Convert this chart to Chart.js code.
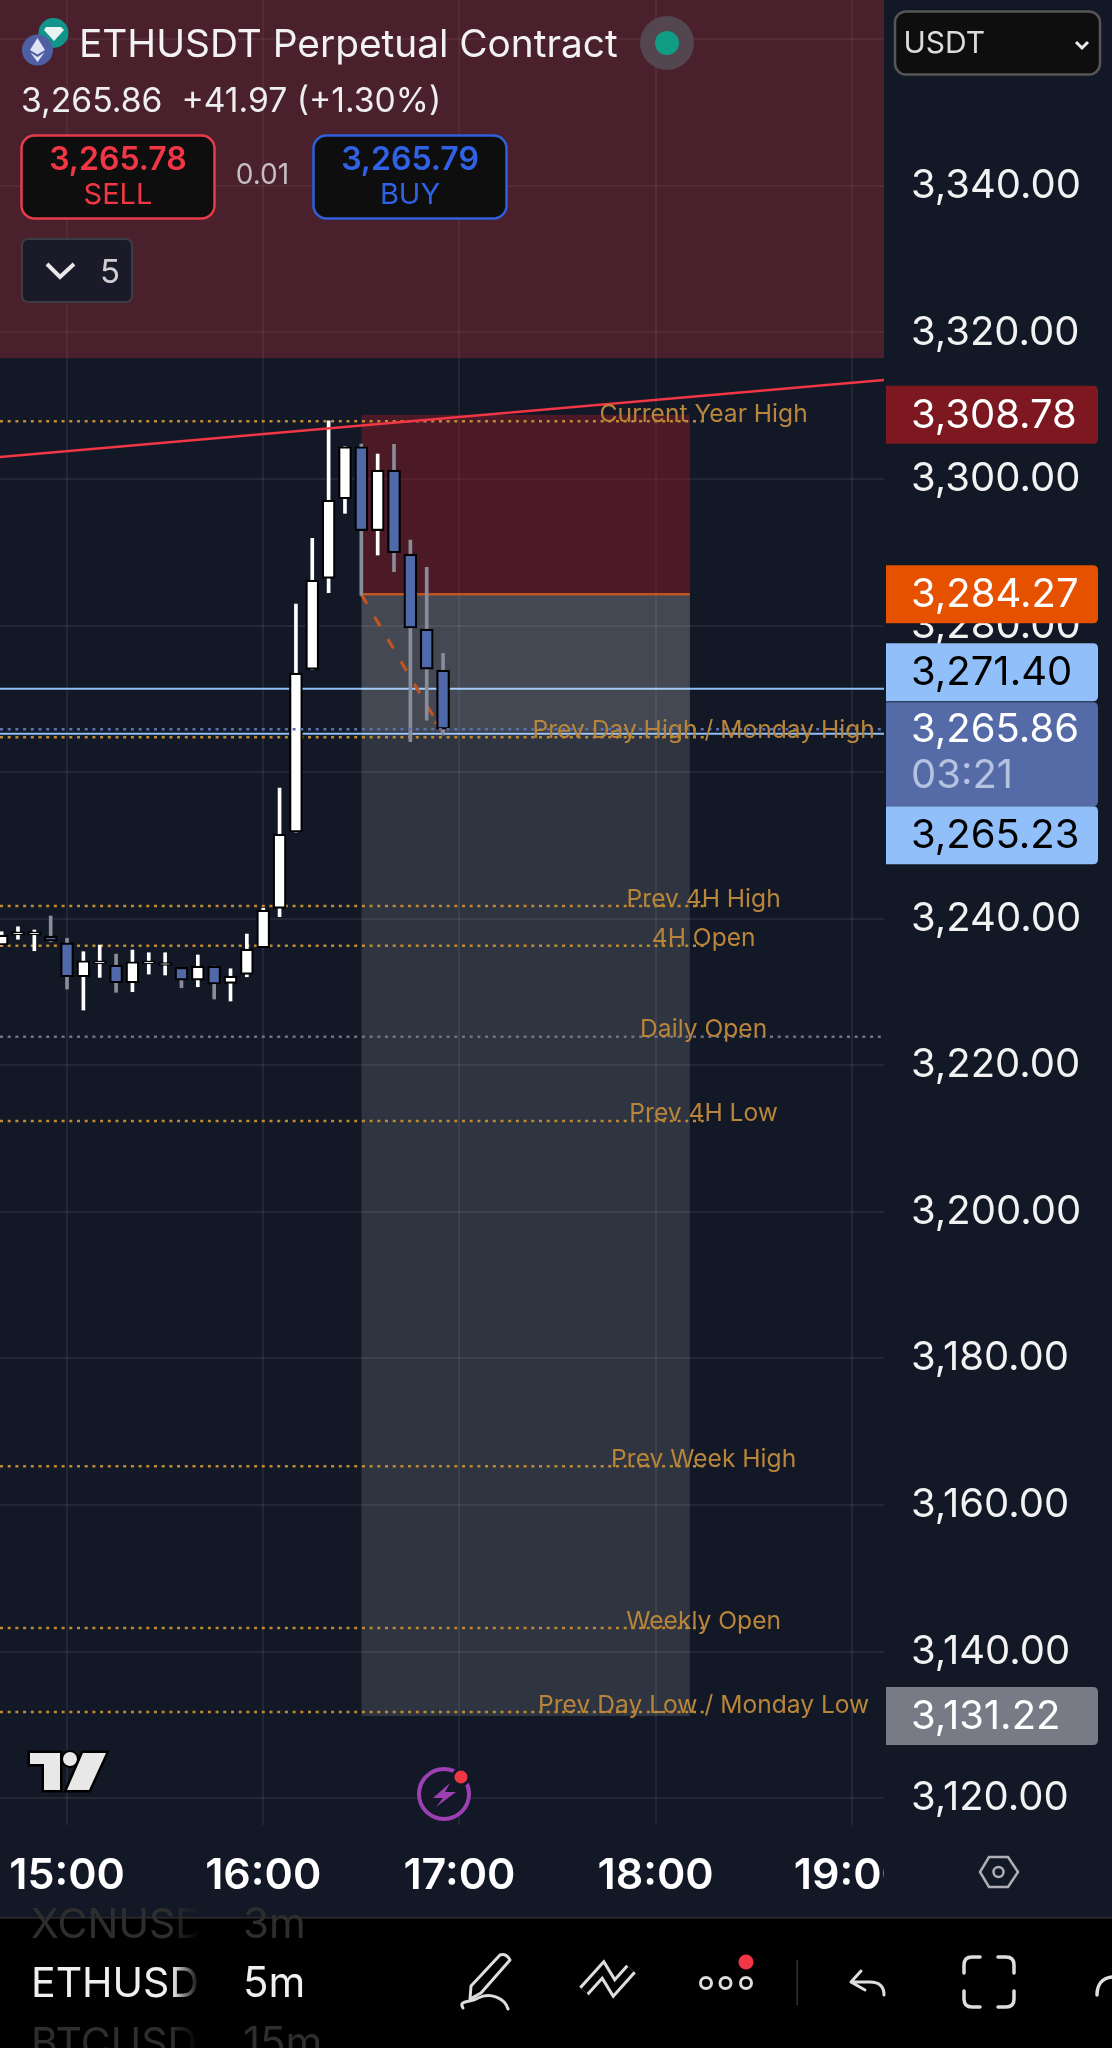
<!DOCTYPE html>
<html>
<head>
<meta charset="utf-8">
<style>
html,body{margin:0;padding:0;background:#121826;width:1112px;height:2048px;overflow:hidden}
#wrap{position:relative;width:1112px;height:2048px}
canvas{position:absolute;left:0;top:0}
svg{position:absolute;left:0;top:0;font-family:Inter,sans-serif}
</style>
<script src="https://cdn.jsdelivr.net/npm/chart.js@4/dist/chart.umd.js"></script>
</head>
<body>
<div id="wrap">
<canvas id="c" width="1112" height="2048"></canvas>
<svg width="1112" height="2048" viewBox="0 0 1112 2048">
  <defs>
    <linearGradient id="fadeMain" gradientUnits="userSpaceOnUse" x1="172" x2="200" y1="0" y2="0"><stop offset="0" stop-color="#f0f0f0"/><stop offset="1" stop-color="#f0f0f0" stop-opacity="0"/></linearGradient>
    <linearGradient id="fadeDim" gradientUnits="userSpaceOnUse" x1="172" x2="200" y1="0" y2="0"><stop offset="0" stop-color="#2e2e2e"/><stop offset="1" stop-color="#2e2e2e" stop-opacity="0"/></linearGradient>
  </defs>

  <!-- header -->
  <circle cx="53.5" cy="33" r="15" fill="#10958a"/>
  <path d="M46 27h15l3 3-10 11-10-11z" fill="#e8f4f2"/>
  <circle cx="37.5" cy="50" r="15.5" fill="#4f5fa3"/>
  <path d="M37.5 38l7.5 12-7.5 4.5-7.5-4.5zM30.5 52.5l7 4.5 7-4.5-7 9.5z" fill="#dfe4f5"/>
  <text x="79" y="57" font-size="38.8" fill="#f2f2f2">ETHUSDT Perpetual Contract</text>
  <circle cx="667" cy="43" r="27" fill="#54464f"/>
  <circle cx="667" cy="43" r="12" fill="#0f9d84"/>
  <text x="21" y="112" font-size="33.7" fill="#eeeeee" xml:space="preserve">3,265.86  +41.97 (+1.30%)</text>

  <rect x="21.5" y="135.5" width="193" height="83" rx="13" fill="#0e0e0e" stroke="#e63b49" stroke-width="2.5"/>
  <text x="118" y="170" font-size="32" font-weight="600" fill="#f23645" text-anchor="middle">3,265.78</text>
  <text x="118" y="204" font-size="29" fill="#f23645" text-anchor="middle">SELL</text>
  <text x="262.5" y="184" font-size="28" fill="#c6bfc2" text-anchor="middle">0.01</text>
  <rect x="313.5" y="135.5" width="193" height="83" rx="13" fill="#0e0e0e" stroke="#2f5fdc" stroke-width="2.5"/>
  <text x="410" y="170" font-size="32" font-weight="600" fill="#2f62e6" text-anchor="middle">3,265.79</text>
  <text x="410" y="204" font-size="29" fill="#2f62e6" text-anchor="middle">BUY</text>

  <rect x="22" y="239" width="110" height="63" rx="6" fill="#1a1a28" stroke="#3c3c46" stroke-width="2"/>
  <path d="M47 264l13 13 14-13" fill="none" stroke="#e8e8e8" stroke-width="4"/>
  <text x="100" y="283" font-size="33" fill="#cfcfd2">5</text>

  <rect x="895" y="11.5" width="205" height="63" rx="11" fill="#0e0e0e" stroke="#565656" stroke-width="2.5"/>
  <text x="903.5" y="53" font-size="30" fill="#dcdcdc">USDT</text>
  <path d="M1076 42l6 6 6-6" fill="none" stroke="#eee" stroke-width="3"/>

  <!-- chart furniture -->
  <path d="M30 1753h30v37H44v-26H30z" fill="#e8e8e8" stroke="#000" stroke-width="5" paint-order="stroke"/>
  <circle cx="70" cy="1759" r="7" fill="#e8e8e8" stroke="#000" stroke-width="4" paint-order="stroke"/>
  <path d="M83 1753h23l-17 37H67z" fill="#e8e8e8" stroke="#000" stroke-width="5" paint-order="stroke"/>
  <circle cx="444" cy="1794" r="25" fill="#121826" stroke="#9c40b4" stroke-width="4"/>
  <path d="M450 1783l-17 15h10l-7 9 20-15h-11z" fill="#9c40b4"/>
  <circle cx="461" cy="1777" r="8" fill="#f23645" stroke="#121826" stroke-width="3"/>

  <rect x="884" y="1826" width="228" height="91" fill="#121826"/>
  <path d="M989 1857h19l10 15-10 15h-19l-9-15z" fill="none" stroke="#aeb0b6" stroke-width="2.5"/>
  <circle cx="998.5" cy="1872" r="5" fill="none" stroke="#aeb0b6" stroke-width="2.5"/>

  <!-- bottom toolbar -->
  <rect x="0" y="1917" width="1112" height="131" fill="#000"/>
  <rect x="0" y="1917" width="1112" height="1.5" fill="#2c2c2c"/>
  <text x="31" y="1938" font-size="41" fill="url(#fadeDim)">XCNUSD</text>
  <text x="243" y="1938" font-size="42" fill="#2e2e2e">3m</text>
  <text x="31" y="1997" font-size="41" fill="url(#fadeMain)">ETHUSD</text>
  <text x="243" y="1997" font-size="42" fill="#f0f0f0">5m</text>
  <text x="31" y="2057" font-size="41" fill="url(#fadeDim)">BTCUSD</text>
  <text x="243" y="2057" font-size="42" fill="#2e2e2e">15m</text>

  <g fill="none" stroke="#dedede" stroke-width="3" stroke-linejoin="round" stroke-linecap="round">
    <path d="M500 1955Q506 1953 510 1960L481 1993L470 1999L471 1986Z"/>
    <path d="M463 2008C458 2000 470 2003 478 1998C490 1992 505 1998 508 2009"/>
    <path d="M851 1982H870Q884 1982 884 1995M861 1971L851 1982L865 1990"/>
    <path d="M964 1973V1965Q964 1957 972 1957H980M998 1957H1006Q1014 1957 1014 1965V1973M1014 1991V1999Q1014 2007 1006 2007H998M980 2007H972Q964 2007 964 1999V1991" stroke-width="3.5"/>
    <path d="M1097 1995C1097 1985 1102 1978 1112 1977" stroke-width="3.5"/>
    <circle cx="706" cy="1983" r="5.5"/>
    <circle cx="725.5" cy="1983" r="5.5"/>
    <circle cx="746" cy="1983" r="5.5"/>
  </g>
  <polyline points="584,1991 603,1970 614,1988 631,1969" fill="none" stroke="#dedede" stroke-width="13" stroke-linejoin="miter"/>
  <polyline points="584,1991 603,1970 614,1988 631,1969" fill="none" stroke="#000" stroke-width="7" stroke-linejoin="miter"/>
  <circle cx="746" cy="1962" r="7.5" fill="#f23645"/>
  <rect x="796.5" y="1960" width="1.5" height="45" fill="#333"/>
</svg>
</div>
<script>
// ---- data ----
const candleTimes = ['14:40','14:45','14:50','14:55','15:00','15:05','15:10','15:15','15:20','15:25','15:30','15:35','15:40','15:45','15:50','15:55','16:00','16:05','16:10','16:15','16:20','16:25','16:30','16:35','16:40','16:45','16:50','16:55'];
const opens  = [3236.41,3237.8,3237.8,3237.64,3236.72,3232.08,3233.85,3233.68,3231.26,3233.85,3233.62,3233.37,3231.63,3233.54,3231.18,3232.41,3236.04,3241.42,3251.83,3274.03,3286.45,3297.31,3304.41,3292.95,3301.23,3289.77,3279.53,3273.94];
const closes = [3237.77,3238.2,3238.2,3236.96,3232.08,3234.27,3234.25,3231.26,3234.13,3234.25,3234.02,3231.63,3233.54,3231.09,3232.18,3235.86,3241.19,3251.56,3273.53,3286.22,3297.13,3304.41,3292.95,3301.23,3289.94,3279.67,3274.07,3265.86];
const highs  = [3238.22,3238.9,3238.46,3240.37,3237.32,3235.5,3236.41,3235.18,3235.73,3235.36,3235.36,3233.37,3235.05,3233.54,3233.17,3237.91,3241.42,3257.83,3282.94,3291.91,3307.96,3304.41,3304.78,3303.41,3304.74,3291.68,3287.95,3276.21];
const lows   = [3236.41,3237.2,3235.63,3236.86,3230.41,3227.54,3232.0,3229.96,3230.04,3232.45,3232.32,3230.58,3230.72,3229.04,3228.77,3232.08,3236.04,3240.27,3251.83,3274.03,3284.48,3295.32,3284.17,3289.63,3287.35,3264.15,3267.11,3265.07];

const levelNames  = ['Current Year High','Prev Day High / Monday High','Prev 4H High','4H Open','Daily Open','Prev 4H Low','Prev Week High','Weekly Open','Prev Day Low / Monday Low'];
const levelPrices = [3307.87,3264.75,3241.73,3236.31,3223.9,3212.4,3165.3,3143.2,3131.75];

const hourTicks   = ['15:00','16:00','17:00','18:00','19:00'];
const viewPrices  = [3116.33,3365.37];
const viewTimes   = ['14:39.5','19:09.85'];
const positionStart = '16:30';
const positionEnd   = '18:10.5';
const levelLabelAt  = '18:15';
const entryPrice    = 3284.27;
const stopPrice     = 3308.78;
const targetPrice   = 3131.22;
const lastPrice     = 3265.86;
const upperLine     = 3271.40;
const lowerLine     = 3265.23;
const countdown     = '03:21';
const resistanceZoneLow = 3316.5;
const trendPrices   = [3303.0,3313.5];
const arrowTimes    = ['16:30','16:55'];
const arrowPrices   = [3284.27,3265.4];
const arrowHeadTimes  = ['16:52.4','16:55'];
const arrowHeadPrices = [3266.9,3265.9];

// ---- helpers ----
const toMin = s => { const [h,m] = s.split(':'); return +h*60 + +m; };
const fmtPrice = v => v.toLocaleString('en-US',{minimumFractionDigits:2,maximumFractionDigits:2});
const xMin = toMin(viewTimes[0]), xMax = toMin(viewTimes[1]);
const FONT = 'Inter, sans-serif';
const isUp = i => closes[i] >= opens[i];

function span(t0,t1,price){ return [{x:t0,y:price},{x:t1,y:price}]; }
function lineDs(data,color,width,dash,order){
  return {type:'line',data,borderColor:color,borderWidth:width,borderDash:dash||[],pointRadius:0,order,fill:false,tension:0};
}
function zoneDs(t0,t1,top,bottom,color,order){
  return {type:'line',data:span(t0,t1,top),borderWidth:0,borderColor:'transparent',pointRadius:0,fill:{value:bottom},backgroundColor:color,order};
}
function noScalePadding(s){ s.paddingLeft=0; s.paddingRight=0; s.paddingTop=0; s.paddingBottom=0; }

const ps = toMin(positionStart), pe = toMin(positionEnd), lx = toMin(levelLabelAt);
const ORANGE = '#c08a33';
const levelDatasets = levelPrices.map((p,i)=>{
  const daily = levelNames[i]==='Daily Open';
  return lineDs(span(xMin, daily ? xMax : lx, p), daily ? '#6e7482' : ORANGE, 2.5, [3,4.7], 12);
});

const datasets = [
  lineDs(span(xMin,xMax,upperLine),'#90bff9',2,[],40),
  lineDs(span(xMin,xMax,lowerLine),'#90bff9',2,[],40),
  zoneDs(xMin,xMax,viewPrices[1],resistanceZoneLow,'rgba(242,54,69,0.25)',30),
  zoneDs(ps,pe,stopPrice,entryPrice,'rgba(180,30,42,0.36)',30),
  zoneDs(ps,pe,entryPrice,targetPrice,'rgba(255,255,255,0.12)',30),
  zoneDs(ps,pe,entryPrice,lastPrice-0.3,'rgba(255,255,255,0.10)',29),
  lineDs(span(ps,pe,entryPrice),'#c2541e',2.5,[],20),
  lineDs(arrowTimes.map((t,i)=>({x:toMin(t),y:arrowPrices[i]})),'#c2541e',3.2,[11,15],15),
  lineDs(arrowHeadTimes.map((t,i)=>({x:toMin(t),y:arrowHeadPrices[i]})),'#c2541e',3.2,[],15),
  ...levelDatasets,
  {type:'bar',label:'wick',data:candleTimes.map((t,i)=>({x:toMin(t),y:[lows[i],highs[i]]})),
   backgroundColor:candleTimes.map((t,i)=>isUp(i)?'#ffffff':'#888d99'),borderWidth:0,barThickness:3,grouped:false,order:6},
  {type:'bar',label:'body',data:candleTimes.map((t,i)=>({x:toMin(t),y:[opens[i],closes[i]]})),
   backgroundColor:candleTimes.map((t,i)=>isUp(i)?'#ffffff':'#5069a8'),borderColor:'#000',borderWidth:2.2,borderSkipped:false,barThickness:13,grouped:false,order:5},
  lineDs(span(xMin,xMax,lastPrice),'#5a72ae',2.5,[3,4.7],3),
  lineDs(trendPrices.map((p,i)=>({x:i?xMax:xMin,y:p})),'#f23645',2.5,[],2)
];

const levelLabels = {
  id:'levelLabels',
  afterDatasetsDraw(chart){
    const {ctx,scales:{x,y}} = chart;
    ctx.save();
    ctx.font = '24.6px '+FONT; ctx.fillStyle = '#b9853a'; ctx.textAlign='center'; ctx.textBaseline='alphabetic';
    levelNames.forEach((n,i)=>{ ctx.fillText(n, x.getPixelForValue(lx)-1, y.getPixelForValue(levelPrices[i])+0.5); });
    ctx.restore();
  }
};

function priceTag(ctx,top,h,fill,lines){
  const L=886,R=1098,r=5;
  ctx.fillStyle=fill;
  ctx.beginPath();
  ctx.moveTo(L,top); ctx.lineTo(R-r,top); ctx.quadraticCurveTo(R,top,R,top+r);
  ctx.lineTo(R,top+h-r); ctx.quadraticCurveTo(R,top+h,R-r,top+h); ctx.lineTo(L,top+h); ctx.closePath();
  ctx.fill();
  ctx.font='40px '+FONT; ctx.textAlign='left'; ctx.textBaseline='middle';
  lines.forEach(l=>{ ctx.fillStyle=l.c; ctx.fillText(l.t,911,l.y); });
}
const priceTags = {
  id:'priceTags',
  afterDraw(chart){
    const {ctx,scales:{y}} = chart;
    const H=58; ctx.save();
    const one=(p,fill,col)=>{const c=y.getPixelForValue(p);priceTag(ctx,c-H/2,H,fill,[{t:fmtPrice(p),c:col,y:c+1}]);};
    one(stopPrice,'#7e1820','#ffffff');
    one(entryPrice,'#e65100','#ffffff');
    one(targetPrice,'#787b86','#ffffff');
    const c=y.getPixelForValue(lastPrice), mainTop=c-27, mainH=104;
    priceTag(ctx,mainTop-H-1,H,'#90bff9',[{t:fmtPrice(upperLine),c:'#000',y:mainTop-H/2}]);
    priceTag(ctx,mainTop+mainH,H,'#90bff9',[{t:fmtPrice(lowerLine),c:'#000',y:mainTop+mainH+H/2+1}]);
    priceTag(ctx,mainTop,mainH,'#546ba8',[{t:fmtPrice(lastPrice),c:'#ffffff',y:c+1},{t:countdown,c:'#b6c3e0',y:c+47}]);
    ctx.restore();
  }
};

new Chart(document.getElementById('c'),{
  type:'bar',
  data:{datasets},
  plugins:[levelLabels,priceTags],
  options:{
    responsive:false,animation:false,events:[],
    layout:{padding:0,autoPadding:false},
    plugins:{legend:{display:false},tooltip:{enabled:false},title:{display:false}},
    scales:{
      x:{type:'linear',position:'bottom',min:xMin,max:xMax,offset:false,
        afterFit(s){s.height=223;noScalePadding(s);},
        grid:{color:'rgba(255,255,255,0.065)',lineWidth:2,drawTicks:false,offset:false},
        border:{display:false},
        afterBuildTicks(s){s.ticks=hourTicks.map(t=>({value:toMin(t)}));},
        ticks:{autoSkip:false,maxRotation:0,minRotation:0,includeBounds:false,padding:25,color:'#ffffff',font:{family:FONT,size:43,weight:'600'},
          callback:v=>{const i=hourTicks.findIndex(t=>toMin(t)===v);return i>=0?hourTicks[i]:'';}}
      },
      y:{type:'linear',position:'right',min:viewPrices[0],max:viewPrices[1],
        afterFit(s){s.width=228;noScalePadding(s);},
        grid:{color:'rgba(255,255,255,0.065)',lineWidth:2,drawTicks:false},
        border:{display:false},
        ticks:{stepSize:20,includeBounds:false,autoSkip:false,padding:27,color:'#f2f2f2',crossAlign:'near',font:{family:FONT,size:40},
          callback:v=>fmtPrice(v)}
      }
    }
  }
});
</script>
</body>
</html>
